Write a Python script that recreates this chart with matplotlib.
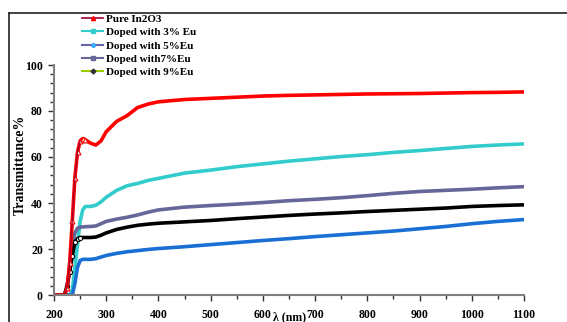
import matplotlib
matplotlib.use("Agg")
import matplotlib.pyplot as plt
from matplotlib.lines import Line2D
from matplotlib.ticker import MultipleLocator

wavelength = [200, 210, 220, 225, 230, 235, 240, 245, 250, 255, 260, 270, 280, 290, 300,
              320, 340, 360, 380, 400, 450, 500, 550, 600, 650, 700, 750, 800, 850, 900,
              950, 1000, 1050, 1100]

pure = [0, 0, 0, 3, 14, 32, 51, 62, 67, 68, 67.5, 66, 65.2, 67, 71,
        75.5, 78, 81.5, 83, 84, 85, 85.5, 86, 86.5, 86.8, 87, 87.2, 87.4, 87.5, 87.6,
        87.8, 88, 88.1, 88.3]
eu3 = [0, 0, 0, 0, 0, 2, 12, 22, 32, 37, 38.5, 38.5, 39, 40.5, 42.5,
       45.5, 47.5, 48.5, 49.8, 50.7, 53, 54.3, 55.8, 57, 58.2, 59.2, 60.2, 61, 62, 62.8,
       63.7, 64.6, 65.2, 65.7]
eu5 = [0, 0, 0, 0, 0, 0, 5, 12, 15, 15.5, 15.5, 15.5, 15.8, 16.5, 17.2,
       18.1, 18.8, 19.3, 19.8, 20.2, 21, 21.9, 22.8, 23.7, 24.5, 25.4, 26.2, 27, 27.8, 28.8,
       29.8, 31.0, 32.0, 32.8]
eu7 = [0, 0, 0, 3, 12, 22, 27, 29, 29.5, 29.6, 29.7, 29.8, 30, 31, 32,
       33, 33.8, 34.8, 36, 37, 38.2, 38.9, 39.5, 40.2, 41, 41.6, 42.3, 43.2, 44.2, 45,
       45.5, 46, 46.6, 47.1]
eu9 = [0, 0, 0, 4, 10, 17, 23, 24.5, 25, 25, 25, 25, 25.2, 26, 27,
       28.5, 29.5, 30.3, 30.8, 31.2, 31.8, 32.4, 33.2, 33.9, 34.6, 35.2, 35.7, 36.3, 36.8, 37.3,
       37.8, 38.5, 38.9, 39.2]

labels = ["Pure In2O3", "Doped with 3% Eu", "Doped with 5%Eu", "Doped with7%Eu", "Doped with 9%Eu"]
x_ticks = [200, 300, 400, 500, 600, 700, 800, 900, 1000, 1100]
y_ticks = [0, 20, 40, 60, 80, 100]

W, H = 567, 322
fig = plt.figure(figsize=(W / 100, H / 100), dpi=100)
ax = fig.add_axes([54 / W, 1 - 295 / H, (524 - 54) / W, (295 - 65) / H])

serif = ["Liberation Serif", "DejaVu Serif"]
font = {"family": serif, "weight": "bold", "size": 8}

lw = 2.6
ax.plot(wavelength, eu3, color="#33CCCC", lw=lw, solid_capstyle="butt")
ax.plot(wavelength, eu7, color="#666699", lw=lw, solid_capstyle="butt")
ax.plot(wavelength, eu5, color="#1A6FD4", lw=lw, solid_capstyle="butt")
ax.plot(wavelength, eu9, color="black", lw=lw, solid_capstyle="butt",
        marker="o", markersize=3, markerfacecolor="white", markeredgecolor="black",
        markeredgewidth=0.8, markevery=slice(3, 9))
ax.plot(wavelength, pure, color="#FF0000", lw=lw, solid_capstyle="butt",
        marker="^", markersize=3.5, markerfacecolor="white", markeredgecolor="#FF0000",
        markeredgewidth=0.8, markevery=slice(3, 11))
ax.plot(wavelength[2:9], pure[2:9], color="#990033", lw=0.8)

ax.set_xlim(200, 1100)
ax.set_ylim(0, 100)
ax.set_xticks(x_ticks)
ax.set_yticks(y_ticks)
ax.xaxis.set_minor_locator(MultipleLocator(50))
ax.yaxis.set_minor_locator(MultipleLocator(4))

for s in ["top", "right"]:
    ax.spines[s].set_visible(False)
for s in ["left", "bottom"]:
    ax.spines[s].set_color("#808080")
    ax.spines[s].set_linewidth(1.5)
ax.tick_params(which="major", direction="out", length=4, width=1, color="#333333", pad=6)
ax.tick_params(which="minor", direction="out", length=3, width=1, color="#333333")
for lab in ax.get_xticklabels() + ax.get_yticklabels():
    lab.set_fontfamily(serif)
    lab.set_fontweight("bold")
    lab.set_fontsize(8.5)
ax.tick_params(axis="y", pad=4)

fig.text(290 / W, 1 - 317 / H, "λ (nm)", ha="center", va="center",
         fontdict={"family": serif, "weight": "bold", "size": 8.5})
fig.text(20 / W, 1 - 165 / H, "Transmittance%", ha="center", va="center",
         rotation=90, fontdict={"family": serif, "weight": "bold", "size": 10})

handles = [
    Line2D([], [], color="#990033", lw=1.2, marker="^", markersize=3,
           markerfacecolor="#FF0000", markeredgecolor="#FF0000"),
    Line2D([], [], color="#33CCCC", lw=1.5, marker="s", markersize=3,
           markerfacecolor="#33CCCC", markeredgecolor="#33CCCC"),
    Line2D([], [], color="#6666AA", lw=1.5, marker="o", markersize=2.5,
           markerfacecolor="#33CCFF", markeredgecolor="#3399FF"),
    Line2D([], [], color="#666699", lw=1.5, marker="s", markersize=3,
           markerfacecolor="#666699", markeredgecolor="#666699"),
    Line2D([], [], color="#99CC00", lw=1.5, marker="D", markersize=2.5,
           markerfacecolor="#333333", markeredgecolor="#333333"),
]
fig.legend(handles, labels, loc="upper left", bbox_to_anchor=(80 / W, 1 - 12 / H),
           frameon=False, prop=font, handlelength=1.9, handletextpad=0.2,
           labelspacing=0.32, borderpad=0.2, borderaxespad=0)

fig.add_artist(Line2D([9 / W, 1.0], [1 - 13 / H, 1 - 13 / H], transform=fig.transFigure,
                      color="#222222", lw=1.2))
fig.add_artist(Line2D([9 / W, 9 / W], [0, 1 - 13 / H], transform=fig.transFigure,
                      color="#222222", lw=1.2))

fig.savefig("out.png", dpi=100)
